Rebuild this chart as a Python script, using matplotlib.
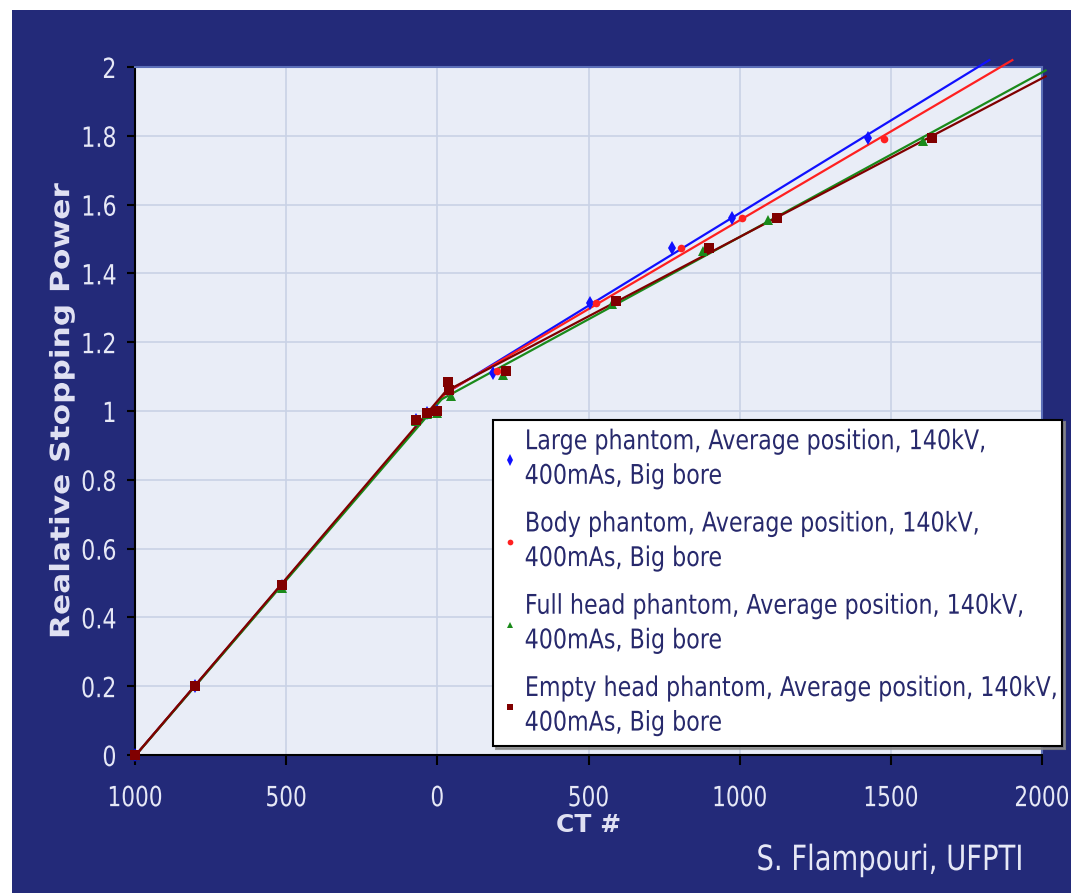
import numpy as np
import matplotlib.pyplot as plt
from matplotlib.patches import Rectangle
from matplotlib.patheffects import AbstractPathEffect
from matplotlib.transforms import Affine2D

# CT number vs relative stopping power
ct_large = [-1000, -800, -515, -70, -35, 0, 35, 42, 185, 505, 775, 975, 1425]
rsp_large = [0.0, 0.2, 0.49, 0.975, 0.995, 1.0, 1.07, 1.055, 1.11, 1.315, 1.475, 1.56, 1.795]

ct_body = [-1000, -800, -515, -70, -35, 0, 36, 42, 197, 525, 806, 1008, 1478]
rsp_body = [0.0, 0.2, 0.49, 0.975, 0.995, 1.0, 1.07, 1.055, 1.115, 1.315, 1.475, 1.56, 1.79]

ct_full = [-1000, -800, -515, -70, -35, 0, 38, 46, 218, 578, 878, 1094, 1607]
rsp_full = [0.0, 0.2, 0.485, 0.97, 0.99, 0.995, 1.06, 1.045, 1.105, 1.31, 1.465, 1.555, 1.785]

ct_empty = [-1000, -800, -515, -70, -35, 0, 35, 40, 226, 590, 900, 1122, 1635]
rsp_empty = [0.0, 0.2, 0.495, 0.975, 0.995, 1.0, 1.085, 1.06, 1.115, 1.32, 1.475, 1.56, 1.795]

labels = ["Large phantom, Average position, 140kV,\n400mAs, Big bore",
          "Body phantom, Average position, 140kV,\n400mAs, Big bore",
          "Full head phantom, Average position, 140kV,\n400mAs, Big bore",
          "Empty head phantom, Average position, 140kV,\n400mAs, Big bore"]
colors = ["#1010ff", "#ff2020", "#1a8a1a", "#800000"]
markers = ["d", "o", "^", "s"]
msizes = [7.5, 5.5, 6.5, 6.5]

xticks = [-1000, -500, 0, 500, 1000, 1500, 2000]
xticklabels = ["1000", "500", "0", "500", "1000", "1500", "2000"]
yticks = [0, 0.2, 0.4, 0.6, 0.8, 1, 1.2, 1.4, 1.6, 1.8, 2]
yticklabels = ["0", "0.2", "0.4", "0.6", "0.8", "1", "1.2", "1.4", "1.6", "1.8", "2"]

navy = "#232a79"
pale = "#e6e8f6"


class Squish(AbstractPathEffect):
    # narrow the glyphs (the source uses a condensed face we don't have)
    def __init__(self, sx=1.0, sy=1.0, anchor=0.0):
        super().__init__()
        self.sx, self.sy, self.anchor = sx, sy, anchor

    def draw_path(self, renderer, gc, tpath, affine, rgbFace=None):
        ext = tpath.get_extents()
        x0 = ext.x0 + self.anchor * ext.width
        t = Affine2D().translate(-x0, 0).scale(self.sx, self.sy).translate(x0, 0) + affine
        renderer.draw_path(gc, tpath, t, rgbFace)


fig = plt.figure(figsize=(10.71, 8.93), dpi=100)
fig.patch.set_facecolor("white")
fig.patches.append(Rectangle((12 / 1071, 0), 1, 883 / 893, transform=fig.transFigure,
                             facecolor=navy, edgecolor="none", zorder=-10))

ax = fig.add_axes([135 / 1071, 1 - 755 / 893, 907 / 1071, 688 / 893])
ax.set_facecolor("#e9edf7")
ax.set_xlim(-1000, 2000)
ax.set_ylim(0, 2)

all_ct = [ct_large, ct_body, ct_full, ct_empty]
all_rsp = [rsp_large, rsp_body, rsp_full, rsp_empty]

for ct, rsp, c, m, ms, lab in zip(all_ct, all_rsp, colors, markers, msizes, labels):
    ct = np.array(ct)
    rsp = np.array(rsp)
    lo = ct <= 45
    hi = ct >= 30
    m1, b1 = np.polyfit(ct[lo], rsp[lo], 1)
    m2, b2 = np.polyfit(ct[hi], rsp[hi], 1)
    xk = (b2 - b1) / (m1 - m2)
    xe = min(2012, (2.02 - b2) / m2)
    xl = np.array([ct.min(), xk])
    xh = np.array([xk, xe])
    ax.plot(xl, m1 * xl + b1, color=c, lw=1.6, zorder=3, clip_on=False)
    ax.plot(xh, m2 * xh + b2, color=c, lw=1.6, zorder=3, clip_on=False)
    ax.plot(ct, rsp, linestyle="none", marker=m, color=c, markersize=ms,
            markeredgewidth=0, zorder=4, clip_on=False, label=lab)

ax.set_xticks(xticks)
ax.set_xticklabels(xticklabels, fontsize=20, color=pale)
ax.set_yticks(yticks)
ax.set_yticklabels(yticklabels, fontsize=20, color=pale)
for t in ax.get_xticklabels():
    t.set_path_effects([Squish(0.78, 1, 0.5)])
for t in ax.get_yticklabels():
    t.set_path_effects([Squish(0.8, 1, 1.0)])
ax.tick_params(axis="x", direction="out", length=7, width=1.5, color="black", pad=14)
ax.tick_params(axis="y", direction="out", length=6, width=1.5, color="black", pad=7)
ax.grid(True, color="#c9d2e6", lw=1.2)
ax.set_axisbelow(True)

for s in ["left", "bottom"]:
    ax.spines[s].set_color("black")
    ax.spines[s].set_linewidth(1.5)
for s in ["top", "right"]:
    ax.spines[s].set_color("#5c6fb8")
    ax.spines[s].set_linewidth(1.5)

ax.set_ylabel("Realative Stopping Power", fontweight="bold", fontsize=22.5, color="#dfe0f2",
              path_effects=[Squish(1, 0.85)])
ax.yaxis.set_label_coords(-0.066, 0.5)
ax.set_xlabel("CT #", fontweight="bold", fontsize=18, color="#dfe0f2", va="top")
ax.xaxis.set_label_coords(0.5, -0.084)

leg = ax.legend(loc="lower left", bbox_to_anchor=(0.395, 0.013, 0.627, 0.477), mode="expand",
                prop={"size": 19.5}, frameon=True, fancybox=False,
                shadow={"color": "#888888", "alpha": 0.8},
                handlelength=0.5, handletextpad=0.3, borderpad=0.35, labelspacing=0.8,
                borderaxespad=0, markerscale=0.75)
leg.get_frame().set_edgecolor("black")
leg.get_frame().set_linewidth(1.5)
leg.get_frame().set_facecolor("white")
leg.get_frame().set_alpha(1)
leg.set_zorder(10)
for t in leg.get_texts():
    t.set_color("#27296c")
    t.set_linespacing(1.43)
    t.set_path_effects([Squish(0.82, 1, 0.0)])

fig.text(756 / 1071, 1 - 860 / 893, "S. Flampouri, UFPTI", fontsize=25,
         color=pale, va="center", ha="left", path_effects=[Squish(0.79, 1, 0.0)])

fig.savefig("out.png", dpi=100, facecolor=fig.get_facecolor())
